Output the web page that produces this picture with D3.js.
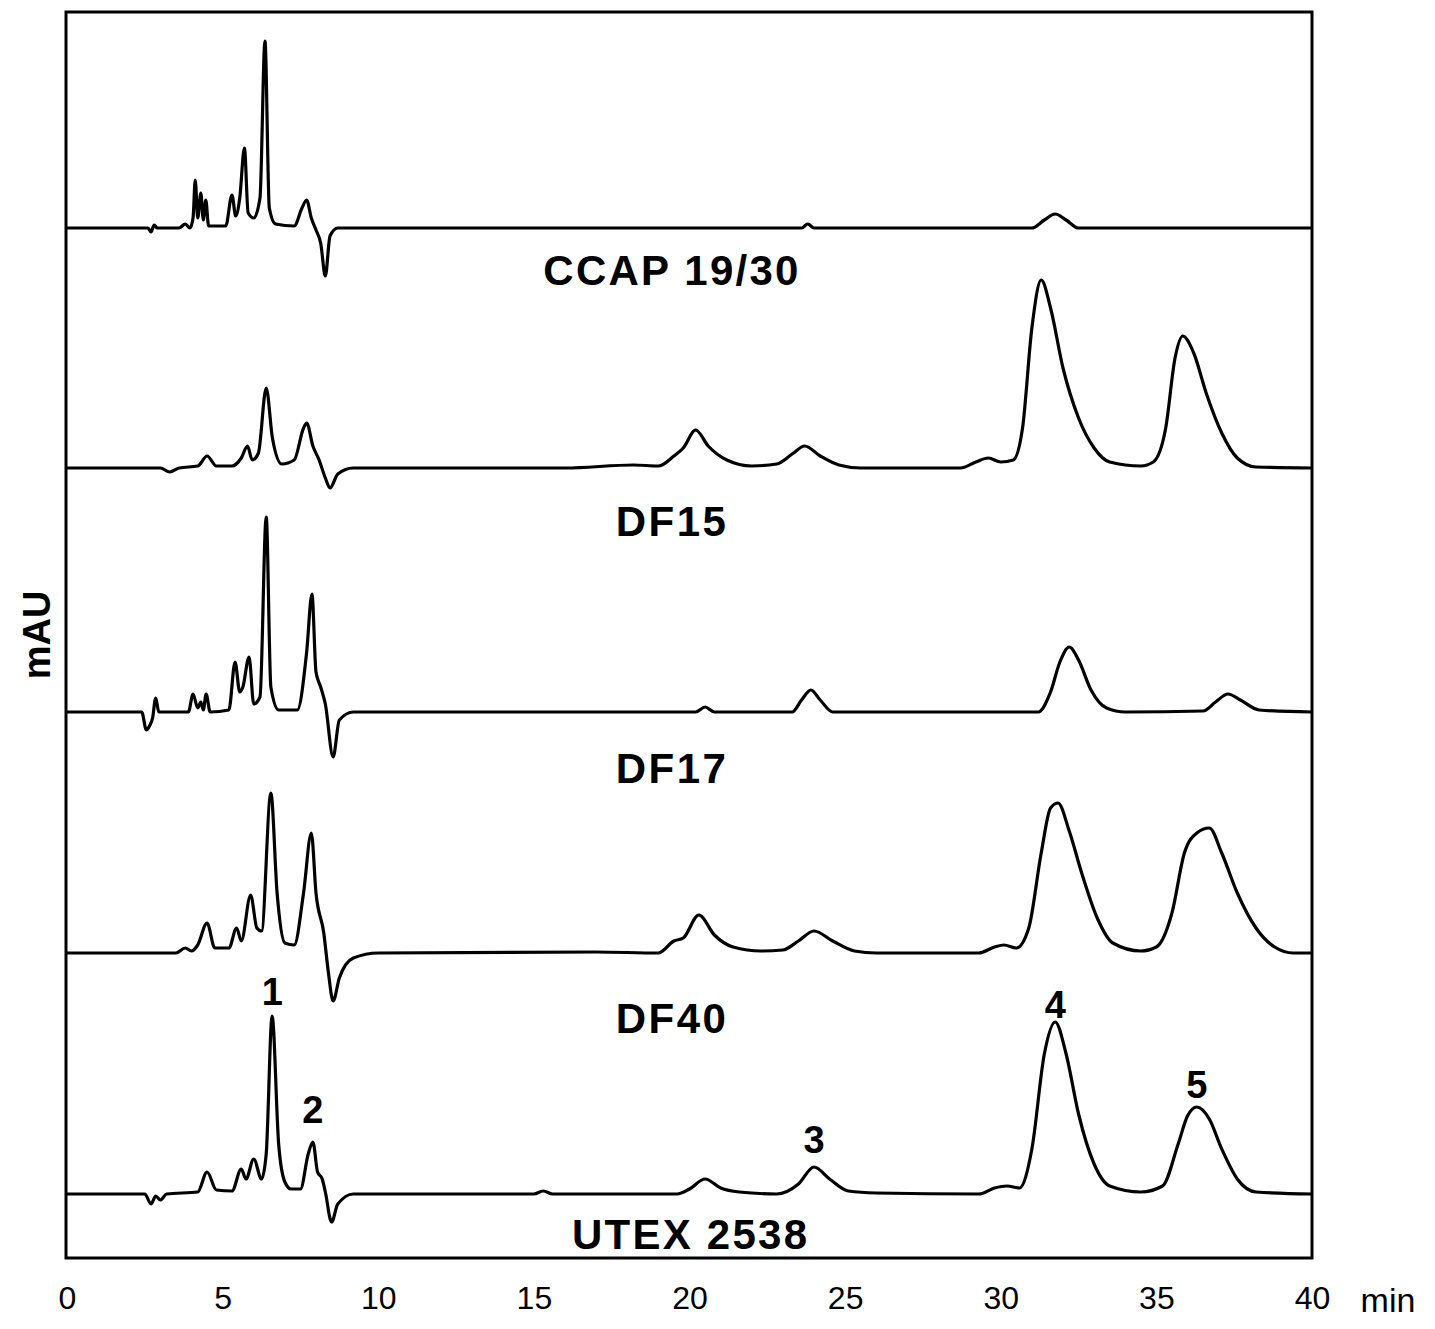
<!DOCTYPE html><html><head><meta charset="utf-8">
<script src="https://cdn.jsdelivr.net/npm/d3@7"></script>
<style>body{margin:0;background:#fff}</style></head><body>
<svg id="c" width="1435" height="1329"></svg>
<script>
const xTicks=[0,5,10,15,20,25,30,35,40];
const traceNames=["CCAP 19/30","DF15","DF17","DF40","UTEX 2538"];
const offsets=[1030,790,546,305,64];
const ccap=[[0,0],[2.6,0],[2.7,-4],[2.8,3],[2.9,0],[3.6,0],[3.8,4],[3.95,0],[4.05,10],[4.12,48],[4.2,10],[4.3,35],[4.38,8],[4.46,28],[4.55,2],[5.1,2],[5.3,33],[5.42,12],[5.55,30],[5.7,80],[5.82,15],[6.0,10],[6.2,30],[6.36,187],[6.5,20],[6.7,4],[7.3,2],[7.55,20],[7.7,28],[7.85,10],[8.0,-2],[8.15,-15],[8.3,-48],[8.45,-8],[8.7,0],[23.6,0],[23.8,4],[24.0,0],[31.0,0],[31.4,8],[31.75,14],[32.1,8],[32.5,0],[40,0]];
const df15=[[0,0],[3.0,0],[3.3,-4],[3.6,0],[4.2,2],[4.5,12],[4.8,2],[5.3,2],[5.6,10],[5.8,22],[5.95,8],[6.15,15],[6.4,80],[6.6,30],[6.9,4],[7.3,8],[7.6,40],[7.7,45],[7.9,22],[8.1,8],[8.3,-10],[8.45,-20],[8.7,-6],[9.2,0],[16,0],[18.2,3],[19.0,2],[19.5,12],[19.8,20],[20.2,38],[20.6,22],[21.2,8],[22,2],[22.8,4],[23.3,14],[23.7,22],[24.2,12],[24.8,3],[25.5,0],[28.7,0],[29.2,6],[29.6,10],[30.0,6],[30.4,8],[30.7,40],[31.0,140],[31.3,188],[31.6,160],[32.0,100],[32.5,50],[33.0,20],[33.5,6],[34.5,2],[34.9,6],[35.3,40],[35.6,110],[35.85,132],[36.2,115],[36.6,75],[37.1,35],[37.6,10],[38.2,1],[40,0]];
const df17=[[0,0],[2.4,0],[2.55,-18],[2.65,-14],[2.75,-6],[2.85,14],[2.95,0],[3.9,0],[4.05,18],[4.2,4],[4.3,10],[4.38,2],[4.47,18],[4.6,0],[5.2,2],[5.4,50],[5.55,20],[5.65,25],[5.85,55],[6.0,8],[6.2,15],[6.4,195],[6.55,25],[6.8,2],[7.4,2],[7.7,60],[7.87,118],[8.0,40],[8.15,25],[8.3,8],[8.55,-45],[8.75,-8],[9.2,0],[20.2,0],[20.5,5],[20.8,0],[23.3,0],[23.6,12],[23.9,22],[24.2,12],[24.6,0],[31.2,0],[31.6,20],[31.9,50],[32.2,65],[32.5,52],[32.9,22],[33.4,4],[34,0],[36.5,1],[36.9,10],[37.3,18],[37.7,12],[38.3,2],[40,0]];
const df40=[[0,0],[3.5,0],[3.8,5],[4.0,2],[4.2,8],[4.5,30],[4.75,5],[5.2,5],[5.45,25],[5.6,12],[5.9,58],[6.1,25],[6.25,22],[6.55,160],[6.75,60],[7.0,10],[7.3,8],[7.6,60],[7.85,120],[8.0,60],[8.25,20],[8.4,-20],[8.55,-48],[8.75,-25],[9.2,-5],[10,0],[17,1],[19,0],[19.5,12],[19.8,15],[20.3,38],[20.8,18],[21.4,6],[22.3,2],[23.0,3],[23.5,12],[24.0,22],[24.6,12],[25.3,2],[26,0],[29.3,0],[29.8,6],[30.1,8],[30.5,5],[30.9,25],[31.3,100],[31.6,145],[31.84,150],[32.2,122],[32.6,80],[33.1,35],[33.6,10],[34.5,2],[35.0,6],[35.5,40],[35.9,100],[36.3,120],[36.7,125],[37.1,100],[37.6,60],[38.2,25],[38.8,6],[39.4,0],[40,0]];
const utex=[[0,0],[2.5,0],[2.7,-10],[2.85,-2],[3.0,-6],[3.2,0],[4.2,2],[4.5,22],[4.8,4],[5.3,3],[5.6,25],[5.75,15],[6.0,35],[6.25,15],[6.4,40],[6.59,178],[6.8,50],[7.0,12],[7.2,5],[7.5,5],[7.75,40],[7.9,52],[8.05,22],[8.2,15],[8.3,2],[8.5,-28],[8.7,-10],[9.2,0],[15,0],[15.3,3],[15.6,0],[19.6,0],[20.0,5],[20.5,15],[21.0,6],[21.6,2],[22.8,0],[23.5,10],[24.0,27],[24.5,15],[25.1,3],[26,1],[29.3,0],[29.8,6],[30.2,8],[30.6,6],[31.0,45],[31.4,140],[31.75,172],[32.1,140],[32.5,80],[33.0,30],[33.5,8],[34.5,2],[35.2,8],[35.7,50],[36.0,78],[36.3,87],[36.7,75],[37.1,45],[37.6,15],[38.2,2],[40,0]];
const traces=[ccap,df15,df17,df40,utex];
const peakLabels=[["1",6.6,189],["2",7.9,71],["3",24.0,41],["4",31.75,176],["5",36.3,96]];
const traceLabelPos=[[19.4,973],[19.4,722],[19.4,475],[19.4,225],[20.0,9]];

const svg=d3.select("#c");
const L=67,R=1312,T=12,B=1258;
const x=d3.scaleLinear().domain([0,40]).range([L,R]);
const y=d3.scaleLinear().domain([0,1246]).range([B,T]);
const font="Arial, 'Liberation Sans', sans-serif";
const line=d3.line().x(d=>x(d[0])).curve(d3.curveMonotoneX);
traces.forEach((tr,i)=>{
  line.y(d=>y(d[1]+offsets[i]));
  svg.append("path").attr("d",line(tr)).attr("fill","none").attr("stroke","#000").attr("stroke-width",3.2).attr("stroke-linejoin","round");
  svg.append("text").attr("x",x(traceLabelPos[i][0])).attr("y",y(traceLabelPos[i][1])).attr("text-anchor","middle")
   .attr("font-family",font).attr("font-weight","bold").attr("font-size",42).attr("textLength",i==0?255:(i==4?235:110)).text(traceNames[i]);
});
peakLabels.forEach(p=>svg.append("text").attr("x",x(p[1])).attr("y",y(offsets[4]+p[2])).attr("text-anchor","middle")
  .attr("font-family",font).attr("font-weight","bold").attr("font-size",38).text(p[0]));
svg.append("rect").attr("x",L-1).attr("y",T).attr("width",R-L+1).attr("height",B-T).attr("fill","none").attr("stroke","#000").attr("stroke-width",3);
const ax=svg.append("g").attr("transform",`translate(0,${B})`).call(d3.axisBottom(x).tickValues(xTicks).tickSize(0).tickPadding(28));
ax.select(".domain").remove();
ax.selectAll("text").attr("font-family",font).attr("font-size",32).attr("fill","#000");
svg.append("text").attr("x",1388).attr("y",1312).attr("text-anchor","middle").attr("font-family",font).attr("font-size",34).text("min");
svg.append("text").attr("transform","translate(50,635) rotate(-90)").attr("text-anchor","middle").attr("font-family",font).attr("font-weight","bold").attr("font-size",38).text("mAU");
</script></body></html>
